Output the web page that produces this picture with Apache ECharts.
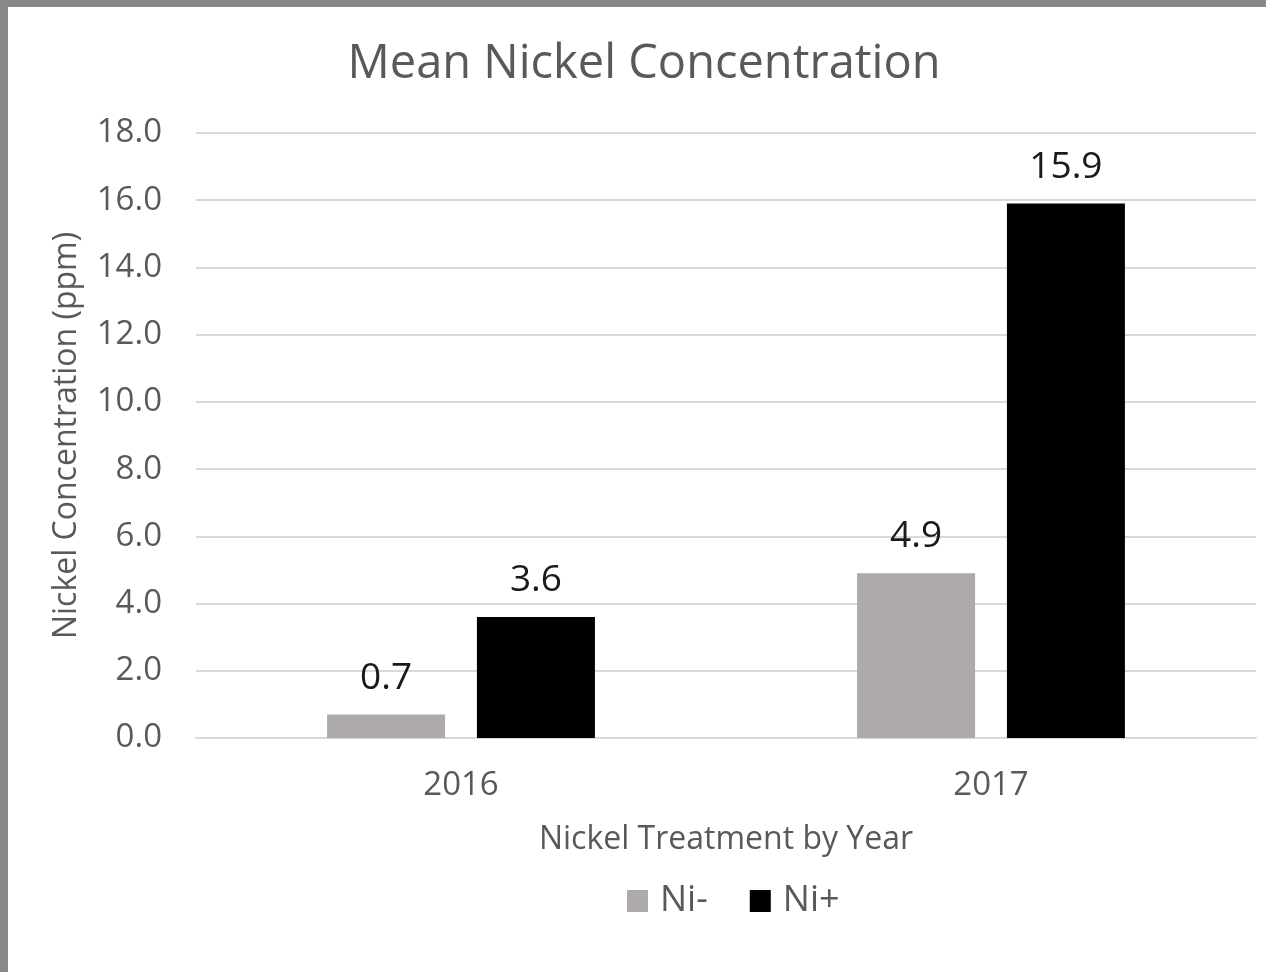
<!DOCTYPE html>
<html><head><meta charset="utf-8">
<script src="https://cdn.jsdelivr.net/npm/echarts@6/dist/echarts.min.js"></script>
<style>
html,body{margin:0;padding:0;background:#fff;}
#frame{position:absolute;left:0;top:0;width:1266px;height:972px;background:#888;}
#chart{position:absolute;left:8px;top:7px;width:1258px;height:965px;background:#fff;}
</style></head>
<body>
<div id="frame"></div>
<div id="chart"></div>
<script>
const categories = ['2016', '2017'];
const niMinus = [0.7, 4.9];
const niPlus = [3.6, 15.9];
const seriesNames = ['Ni-', 'Ni+'];
const titleText = 'Mean Nickel Concentration';
const xName = 'Nickel Treatment by Year';
const yName = 'Nickel Concentration (ppm)';

const FONT = 'Open Sans';
const chart = echarts.init(document.getElementById('chart'));
const labelCfg = {show: true, position: 'top', distance: 18, fontFamily: FONT, fontSize: 37, color: '#1a1a1a', formatter: p => p.value.toFixed(1)};
chart.setOption({
  animation: false,
  title: {text: titleText, left: 631, top: 29, textAlign: 'center',
    textStyle: {fontFamily: FONT, fontSize: 47, fontWeight: 'normal', color: '#595959'}},
  legend: {top: 871, left: 614, itemWidth: 21, itemHeight: 22, itemGap: 42,
    icon: 'rect',
    textStyle: {fontFamily: FONT, fontSize: 36, color: '#595959', padding: [0, 0, 0, 7]},
    data: seriesNames},
  grid: {left: 188, right: 10, top: 126, bottom: 234, containLabel: false},
  xAxis: {type: 'category', data: categories,
    name: xName, nameLocation: 'middle', nameGap: 86,
    nameTextStyle: {fontFamily: FONT, fontSize: 32, color: '#595959'},
    axisLine: {lineStyle: {color: '#d9d9d9', width: 2}},
    axisTick: {show: false},
    axisLabel: {fontFamily: FONT, fontSize: 33, color: '#595959', margin: 31}},
  yAxis: {type: 'value', min: 0, max: 18, interval: 2,
    name: yName, nameLocation: 'middle', nameGap: 113,
    nameTextStyle: {fontFamily: FONT, fontSize: 32, color: '#595959'},
    axisLine: {show: false}, axisTick: {show: false},
    splitLine: {lineStyle: {color: '#d9d9d9', width: 2}},
    axisLabel: {fontFamily: FONT, fontSize: 33, color: '#595959', margin: 34, formatter: v => v.toFixed(1)}},
  series: [
    {name: seriesNames[0], type: 'bar', data: niMinus, barWidth: 118, barGap: '27%',
      itemStyle: {color: '#aeaaaa'}, label: labelCfg},
    {name: seriesNames[1], type: 'bar', data: niPlus, barWidth: 118,
      itemStyle: {color: '#000000'}, label: labelCfg}
  ]
});
</script>
</body></html>
